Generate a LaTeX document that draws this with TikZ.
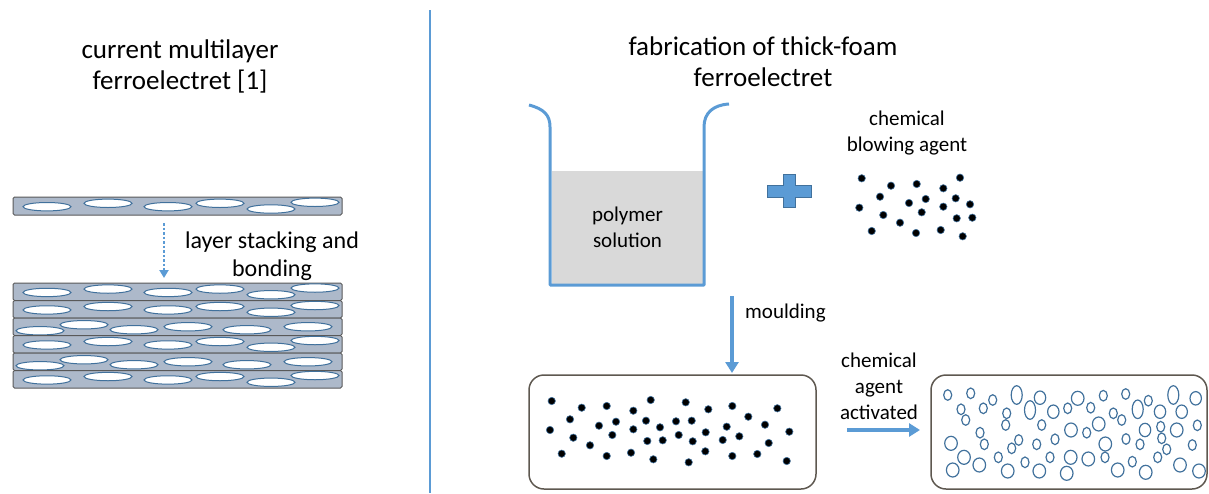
\documentclass[tikz,border=0pt]{standalone}
\usepackage{fontspec}
\setmainfont{Carlito}
\usetikzlibrary{arrows.meta}
\definecolor{accent}{HTML}{5B9BD5}
\definecolor{bubline}{HTML}{41719C}
\definecolor{layerfill}{HTML}{ADB9CA}
\definecolor{layerline}{HTML}{595959}
\definecolor{boxline}{HTML}{5E5850}
\definecolor{solfill}{HTML}{D9D9D9}
\newcommand\lyrA[1]{%
  \draw[lyr] (13,#1) rectangle (342,#1+17.5);
  \foreach \ex/\ey in {47/0.7,108/-2.7,168/0.7,220/-2.7,271/3,315/-3.7}
    \draw[bub] (\ex,#1+8.75+\ey) ellipse [x radius=24pt, y radius=4.2pt];
}
\newcommand\lyrB[1]{%
  \draw[lyr] (13,#1) rectangle (342,#1+17.5);
  \foreach \ex/\ey in {40/4,84/-2,134/3,188/0,247/3,308/0}
    \draw[bub] (\ex,#1+8.75+\ey) ellipse [x radius=24pt, y radius=4.2pt];
}
\begin{document}
\begin{tikzpicture}[x=1pt,y=-1pt,
  lyr/.style={draw=layerline, fill=layerfill, line width=1pt, rounded corners=1.5pt},
  bub/.style={draw=bubline, fill=white, line width=1pt},
  pore/.style={draw=bubline, line width=1.2pt},
  fdot/.style={fill=black, draw=bubline, line width=0.6pt},
  ttl/.style={font=\fontsize{27}{31}\selectfont, align=center, inner sep=0pt},
  txt/.style={font=\fontsize{21}{26}\selectfont, align=center, inner sep=0pt},
  rbox/.style={draw=boxline, line width=1.5pt, rounded corners=15pt, inner sep=0pt},
  bigarrow/.style={draw=accent, line width=3.5pt, -{Triangle[width=13pt,length=11pt]}},
  dotarrow/.style={draw=accent, line width=2.2pt, dash pattern=on 2.5pt off 2pt, -{Triangle[width=9pt,length=8pt]}},
  beaker/.style={draw=accent, line width=3pt, line join=round}
]
\useasboundingbox (0,0) rectangle (1209,493);

% divider
\draw[accent, line width=1.3pt] (430,10) -- (430,493);

% titles
\node[ttl] (tl) at (180,66) {current multilayer\\ferroelectret [1]};
\node[ttl] (tr) at (763,62) {fabrication of thick-foam\\ferroelectret};

% single layer
\draw[lyr] (13,197) rectangle (342,215);
\foreach \ex/\ey in {47/0.7,108/-2.7,168/0.7,220/-2.7,271/3,315/-3.7}
  \draw[bub] (\ex,206+\ey) ellipse [x radius=24pt, y radius=4.2pt];

% stacking arrow and text
\coordinate (d1) at (164,223);
\coordinate (d2) at (164,278);
\draw[dotarrow] (d1) -- (d2);
\node[txt, font=\fontsize{24}{28}\selectfont] (stk) at (272,256) {layer stacking and\\bonding};

% stack
\lyrA{283}
\lyrA{300.5}
\lyrB{318}
\lyrA{335.5}
\lyrB{353}
\lyrA{370.5}

% beaker
\node[fill=solfill, minimum width=151pt, minimum height=113pt, inner sep=0pt, txt] (sol) at (627.5,227.5) {polymer\\solution};
\draw[beaker] (529,105) .. controls (544,109) and (550,115) .. (550,127) -- (550,285) -- (704,285) -- (704,127) .. controls (704,113) and (713,105) .. (729,104);

% plus
\draw[fill=accent, draw=bubline, line width=0.8pt] (783,174) -- (795,174) -- (795,185) -- (811,185) -- (811,197) -- (795,197) -- (795,207) -- (783,207) -- (783,197) -- (767,197) -- (767,185) -- (783,185) -- cycle;

% blowing agent
\node[txt] (cba) at (907,133) {chemical\\blowing agent};
\foreach \px/\py in {861.7/178.3,891/185.7,916.7/184,943.3/188.3,960/177.7,880/196.7,909/203,925.7/199,955.7/198.3,970/204.3,859.3/207.7,883.3/215,921.7/212.3,943.3/206.7,956.7/218.3,972.3/217.7,900/222.7,871.7/231,916/233,940.7/230,962.7/236.3}
  \fill[fdot] (\px,\py) circle (3.7pt);

% moulding arrow
\coordinate (m1) at (732,296);
\coordinate (m2) at (732,373);
\draw[bigarrow] (m1) -- (m2);
\node[txt, anchor=west] (mld) at (745,313) {moulding};

% box 1
\node[rbox, minimum width=287pt, minimum height=114pt] (box1) at (672.5,432) {};
\foreach \px/\py in {551.7/401,581.7/407.7,606.7/406,633.3/410.7,650.7/400,685.7/402.3,708.3/409.3,732.3/406,777.3/408.3,570/419.3,599/425.7,616/421.7,646/420.7,660/427.3,676/421.3,691.7/420.7,748.3/416.7,765/424.7,550/430,573.3/437.7,612.3/435,633.3/429.3,678.7/435,705.7/432.3,726.7/426.7,789.3/431.7,590/445.3,647.3/441,662.7/440.3,692.7/441.3,722.7/440,739.3/436.3,768.7/443,561.7/453.7,606.7/456,631/452.7,653.3/459.3,688.7/462.3,705.3/451.3,732.3/456,757.3/454,786.7/461}
  \fill[fdot] (\px,\py) circle (3.7pt);

% activation arrow
\node[txt] (act) at (879,386) {chemical\\agent\\activated};
\coordinate (a1) at (847,430);
\coordinate (a2) at (920,430);
\draw[bigarrow] (a1) -- (a2);

% box 2
\node[rbox, minimum width=276pt, minimum height=114pt] (box2) at (1069,432) {};
\foreach \bx/\by/\rx/\ry in {
947.7/395/4/5.3, 970.7/393.3/4/5.3, 992.7/400/4/5.3, 1016.7/395/5.5/9.3, 1040/397.7/5.7/6.7,
961/409.3/4/5.3, 983.3/408.3/4/5.3, 1006.7/413.3/4/5.3, 1030/410/5.5/9.3, 1053.3/411.7/5.7/6.7,
1067.7/408.3/4/5.3, 1077.7/398.3/6.3/7, 1090.7/407.7/4/5.3, 1103.3/395.7/4/5.3, 1113.3/413.3/4/5.3,
1125.7/394/4/5.3, 1137.7/409.3/5.5/9.3, 1148.3/400.7/4/5.3, 1160/411.7/5.7/6.7, 1173.3/395/5.5/9.3,
1181.7/411.7/5.7/6.7, 1195.7/398.3/5.7/6.7, 965.7/420/4/5.3, 1005.7/425/4/5.3, 1041.7/425/4/5.3,
1071/430/6.3/7, 1086.7/432.7/4/5.3, 1098.7/424/6.3/7, 1121.7/420/4/5.3, 1145/430/5.7/6.7,
1160.7/426.7/4/5.3, 1176.7/430/6.3/7, 1197.3/425.3/4/5.3, 980/432.7/4/5.3, 951/443.3/6.3/7,
984.3/444.3/4/5.3, 1018.7/440/4/5.3, 1036.7/444.3/4/5.3, 1055/439.3/4/5.3, 1105.3/444/6.3/7,
1126/439/4/5.3, 1140/444.3/4/5.3, 1161.7/438.3/4/5.3, 1192.3/445/4/5.3, 1011.7/448.3/4/5.3,
1166.7/449.3/4/5.3, 964/457.3/6.3/7, 998.3/457.3/4/5.3, 1025/462.3/4/5.3, 1050/457.3/4/5.3,
1070.7/457.3/6.3/7, 1088.3/459/6.3/7, 1105/457.3/4/5.3, 1132.3/461.7/4/5.3, 1157.7/457.3/4/5.3,
1180/465/6.3/7, 952.7/470/6.3/7, 979.3/465/6.3/7, 1007.7/471/6.3/7, 1039.3/471/6.3/7,
1066.7/473.3/6.3/7, 1117.7/470/6.3/7, 1145.7/472.3/6.3/7, 1199/471/6.3/7}
  \draw[pore] (\bx,\by) ellipse [x radius=\rx pt, y radius=\ry pt];
\end{tikzpicture}
\end{document}
